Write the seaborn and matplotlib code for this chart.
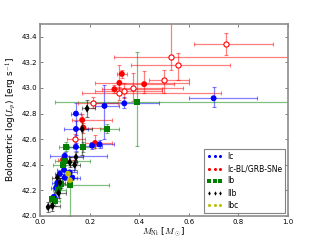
"""
Bolometric peak luminosity vs. nickel mass for stripped-envelope SNe.
Recreated as a small 320x240 figure -> out.png
"""

import numpy as np
import pandas as pd
import matplotlib
matplotlib.use("Agg")
import matplotlib.pyplot as plt
from matplotlib.lines import Line2D
import seaborn as sns

# --- data ------------------------------------------------------------------
# one entry per supernova
SN_TYPE = (["Ic-BL"] * 9 + ["Ic-BL"] * 8 + ["Ic"] * 17 + ["Ib"] * 11
           + ["IIb"] * 10 + ["Ibc"] * 2)
OPEN = [True] * 9 + [False] * 8 + [False] * 40

MNI = [0.75, 0.53, 0.556, 0.50, 0.32, 0.34, 0.375, 0.215, 0.14,
       0.42, 0.32, 0.33, 0.30, 0.17, 0.222, 0.093, 0.175,
       0.70, 0.34, 0.26, 0.145, 0.21, 0.24, 0.10, 0.145, 0.097, 0.08,
       0.056, 0.10, 0.13, 0.145, 0.07, 0.12, 0.065,
       0.39, 0.27, 0.105, 0.173, 0.093, 0.12, 0.073, 0.06, 0.085, 0.10,
       0.05,
       0.19, 0.17, 0.145, 0.12, 0.14, 0.033, 0.05, 0.075, 0.08, 0.07,
       0.113, 0.12]
LP = [43.34, 43.24, 43.18, 43.06, 42.96, 42.98, 43.00, 42.88, 42.60,
      43.03, 43.04, 43.11, 42.99, 42.75, 42.57, 42.44, 42.69,
      42.92, 42.88, 42.86, 42.68, 42.55, 42.56, 42.47, 42.54, 42.36,
      42.33, 42.15, 42.30, 42.30, 42.80, 42.26, 42.34, 42.22,
      42.89, 42.68, 42.54, 42.54, 42.40, 42.24, 42.20, 42.12, 42.25,
      42.43, 42.13,
      42.84, 42.68, 42.46, 42.42, 42.40, 42.07, 42.08, 42.18, 42.26,
      42.30,
      42.33, 42.28]
MNI_LO = [0.13, 0.23, 0.19, 0.06, 0.15, 0.12, 0.08, 0.06, 0.03,
          0.10, 0.10, 0.02, 0.05, 0.04, 0.04, 0.02, 0.03,
          0.10, 0.12, 0.04, 0.05, 0.03, 0.04, 0.06, 0.03, 0.03, 0.02,
          0.01, 0.03, 0.02, 0.02, 0.02, 0.02, 0.02,
          0.33, 0.03, 0.03, 0.04, 0.04, 0.03, 0.02, 0.02, 0.03, 0.04,
          0.01,
          0.02, 0.03, 0.03, 0.03, 0.02, 0.01, 0.01, 0.02, 0.02, 0.02,
          0.01, 0.01]
MNI_HI = [0.19, 0.50, 0.21, 0.10, 0.41, 0.15, 0.20, 0.10, 0.04,
          0.12, 0.28, 0.02, 0.19, 0.12, 0.07, 0.05, 0.10,
          0.175, 0.14, 0.06, 0.05, 0.04, 0.06, 0.17, 0.03, 0.04, 0.03,
          0.02, 0.05, 0.03, 0.02, 0.02, 0.03, 0.02,
          0.70, 0.05, 0.04, 0.05, 0.04, 0.16, 0.03, 0.02, 0.03, 0.10,
          0.02,
          0.03, 0.04, 0.03, 0.03, 0.02, 0.02, 0.03, 0.03, 0.02, 0.02,
          0.01, 0.01]
LP_LO = [0.08, 0.10, 0.12, 0.10, 0.05, 0.06, 0.10, 0.04, 0.04,
         0.07, 0.08, 0.03, 0.03, 0.05, 0.04, 0.04, 0.04,
         0.07, 0.04, 0.26, 0.05, 0.03, 0.03, 0.03, 0.03, 0.03, 0.02,
         0.02, 0.02, 0.02, 0.25, 0.02, 0.02, 0.02,
         0.34, 0.03, 0.03, 0.04, 0.03, 0.24, 0.03, 0.04, 0.03, 0.03,
         0.03,
         0.07, 0.20, 0.04, 0.04, 0.04, 0.04, 0.04, 0.04, 0.04, 0.03,
         0.01, 0.01]
LP_HI = [0.09, 0.30, 0.09, 0.08, 0.05, 0.06, 0.12, 0.05, 0.04,
         0.10, 0.14, 0.03, 0.03, 0.05, 0.06, 0.04, 0.04,
         0.09, 0.05, 0.16, 0.06, 0.03, 0.03, 0.03, 0.03, 0.03, 0.02,
         0.02, 0.02, 0.02, 0.08, 0.02, 0.02, 0.02,
         0.39, 0.04, 0.04, 0.04, 0.03, 0.03, 0.03, 0.04, 0.03, 0.03,
         0.03,
         0.07, 0.06, 0.04, 0.04, 0.04, 0.04, 0.04, 0.04, 0.04, 0.03,
         0.01, 0.01]

TYPE_ORDER = ["Ic", "Ic-BL", "Ib", "IIb", "Ibc"]
LEGEND_LABELS = ["Ic", "Ic-BL/GRB-SNe", "Ib", "IIb", "Ibc"]
COLOURS = {"Ic": "#0000ff", "Ic-BL": "#ff0000", "Ib": "#008000",
           "IIb": "#000000", "Ibc": "#bfbf00"}
MARKERS = {"Ic": "o", "Ic-BL": "o", "Ib": "s", "IIb": "d", "Ibc": "o"}


def main():
    plt.rcParams["mathtext.fontset"] = "cm"
    df = pd.DataFrame({"type": SN_TYPE, "open": OPEN, "mni": MNI, "lp": LP,
                       "xlo": MNI_LO, "xhi": MNI_HI,
                       "ylo": LP_LO, "yhi": LP_HI})

    fig, ax = plt.subplots(figsize=(3.2, 2.4), dpi=100)
    fig.subplots_adjust(left=0.125, right=0.9, bottom=0.1, top=0.9)

    # error bars first, faint
    for t in TYPE_ORDER:
        sub = df[df.type == t]
        ax.errorbar(sub.mni, sub.lp,
                    xerr=[sub.xlo, sub.xhi], yerr=[sub.ylo, sub.yhi],
                    fmt="none", ecolor=COLOURS[t], alpha=0.5,
                    elinewidth=0.9, capsize=1.5, capthick=0.8, zorder=2)

    filled = df[~df.open]
    sns.scatterplot(data=filled, x="mni", y="lp", hue="type", style="type",
                    hue_order=TYPE_ORDER, style_order=TYPE_ORDER,
                    palette=COLOURS, markers=MARKERS, s=18, linewidth=0,
                    legend=False, ax=ax, zorder=3)

    grb = df[df.open]
    ax.scatter(grb.mni, grb.lp, s=14, facecolor="white",
               edgecolor="#ff0000", linewidth=0.8, zorder=4)

    ax.set_xlim(0, 1.0)
    ax.set_ylim(42.0, 43.5)
    ax.set_xticks(np.arange(0, 1.01, 0.2))
    ax.set_yticks(np.arange(42.0, 43.41, 0.2))
    ax.tick_params(direction="in", top=True, right=True, labelsize=5,
                   length=2.5, width=0.5, color="0.3", pad=2)
    for sp in ax.spines.values():
        sp.set_color("0.55")
        sp.set_linewidth(1.2)

    ax.set_xlabel(r"$M_{\rm Ni}$ [$M_\odot$]", fontsize=6.5, labelpad=1)
    ax.set_ylabel(r"Bolometric log($L_p$) [erg s$^{-1}$]", fontsize=6.5,
                  labelpad=2)

    handles = [Line2D([], [], linestyle="none", marker=MARKERS[t],
                      markersize=2.2, color=COLOURS[t],
                      markeredgewidth=0)
               for t in TYPE_ORDER]
    leg = ax.legend(handles, LEGEND_LABELS, loc="lower right", numpoints=3,
                    fontsize=5.5, frameon=True, fancybox=False,
                    borderpad=0.4, labelspacing=0.42, handlelength=2.0,
                    handletextpad=0.6, borderaxespad=0.4)
    leg.get_frame().set_edgecolor("0.4")
    leg.get_frame().set_linewidth(0.8)

    fig.savefig("out.png", dpi=100)
    plt.close(fig)


if __name__ == "__main__":
    main()
